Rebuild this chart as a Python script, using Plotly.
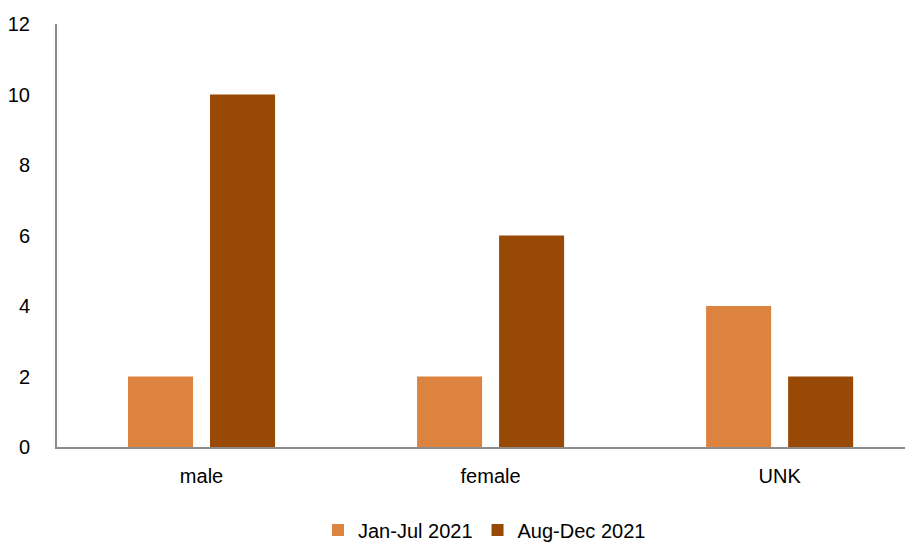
import plotly.graph_objects as go

categories = ["male", "female", "UNK"]
jan_jul = [2, 2, 4]
aug_dec = [10, 6, 2]

fig = go.Figure()
fig.add_trace(go.Bar(x=categories, y=jan_jul, name="Jan-Jul 2021",
                     marker_color="#DC843F", marker_line_width=0))
fig.add_trace(go.Bar(x=categories, y=aug_dec, name="Aug-Dec 2021",
                     marker_color="#994906", marker_line_width=0))

# page body has an 8px margin, so the figure is sized/offset to fit
fig.update_layout(
    width=905, height=535,
    margin=dict(l=49, r=1, t=16, b=96, autoexpand=False),
    plot_bgcolor="white", paper_bgcolor="white",
    font=dict(family="Liberation Sans", size=20, color="black"),
    barmode="group", bargap=0.4325, bargroupgap=0.207,
    showlegend=True,
    legend=dict(orientation="h", x=0.5, xanchor="center", y=-0.196,
                yanchor="middle", font=dict(size=20), itemwidth=30),
    xaxis=dict(range=[-0.5, 2.458], showline=True, linecolor="#8c8c8c",
               linewidth=2, ticks="", ticklabelstandoff=10,
               automargin=False),
    yaxis=dict(range=[0, 12], dtick=2, showgrid=False, zeroline=False,
               showline=True, linecolor="#8c8c8c", linewidth=2,
               ticks="", ticklabelstandoff=21, automargin=False),
)

fig.write_html("out.html")
